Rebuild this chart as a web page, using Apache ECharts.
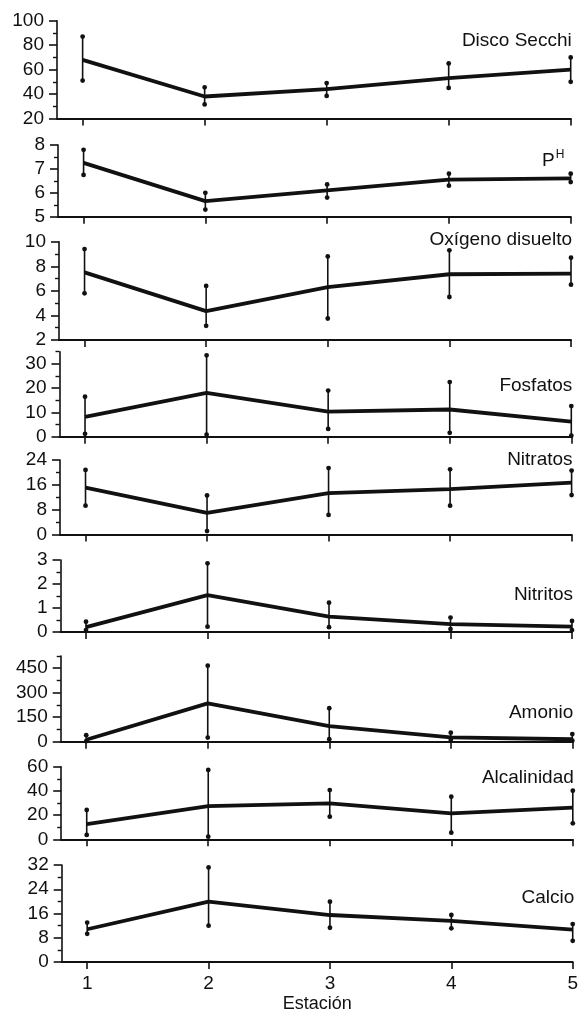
<!DOCTYPE html>
<html><head><meta charset="utf-8">
<script src="https://cdn.jsdelivr.net/npm/echarts@6/dist/echarts.min.js"></script>
<style>html,body{margin:0;padding:0;background:#fff}#c{width:581px;height:1016px}</style>
</head><body><div id="c"></div>
<script>
// ---- data ----
const stations = [1, 2, 3, 4, 5];
const stationTicks = [1, 2, 3, 4, 5];
const xAxisTitle = 'Estación';
const panelNames = ['Disco Secchi', 'P', 'Oxígeno disuelto', 'Fosfatos', 'Nitratos', 'Nitritos', 'Amonio', 'Alcalinidad', 'Calcio'];
const phSuperscript = 'H';

const secchiMean = [68, 38, 44, 53, 60];
const secchiHigh = [87, 45.5, 49, 65, 70];
const secchiLow  = [51, 31.5, 38.5, 45, 50];

const phMean = [7.25, 5.65, 6.1, 6.55, 6.6];
const phHigh = [7.8, 6.0, 6.35, 6.8, 6.8];
const phLow  = [6.75, 5.3, 5.8, 6.3, 6.45];

const oxMean = [7.5, 4.35, 6.3, 7.35, 7.4];
const oxHigh = [9.4, 6.4, 8.8, 9.3, 8.7];
const oxLow  = [5.8, 3.15, 3.75, 5.5, 6.5];

const fosMean = [8.2, 18, 10.3, 11.2, 6.2];
const fosHigh = [16.5, 33.5, 19, 22.5, 12.6];
const fosLow  = [1.2, 0.8, 3.2, 1.6, 0.4];

const nitraMean = [15.1, 7.0, 13.3, 14.6, 16.7];
const nitraHigh = [20.8, 12.6, 21.4, 21.0, 20.6];
const nitraLow  = [9.3, 1.1, 6.3, 9.3, 12.7];

const nitriMean = [0.2, 1.54, 0.64, 0.33, 0.22];
const nitriHigh = [0.43, 2.86, 1.22, 0.6, 0.46];
const nitriLow  = [0.08, 0.22, 0.2, 0.12, 0.08];

const amoMean = [12, 235, 96, 27, 15];
const amoHigh = [40, 466, 205, 55, 47];
const amoLow  = [3, 25, 15, 10, 6];

const alcMean = [12.6, 27.5, 29.7, 21.5, 26.1];
const alcHigh = [24.2, 57.3, 40.7, 35.2, 40.2];
const alcLow  = [3.6, 2.2, 18.7, 5.5, 13.2];

const calMean = [10.8, 19.9, 15.5, 13.6, 10.7];
const calHigh = [13, 31.2, 19.9, 15.5, 12.5];
const calLow  = [9.3, 12, 11.3, 11.1, 7.0];

// axis ranges and tick labels
const yMins = [20, 5, 2, 0, 0, 0, 0, 0, 0];
const yMaxs = [100, 8, 10, 35, 24, 3, 525, 60, 32];
const majorTicks = [
  [20, 40, 60, 80, 100],
  [5, 6, 7, 8],
  [2, 4, 6, 8, 10],
  [0, 10, 20, 30],
  [0, 8, 16, 24],
  [0, 1, 2, 3],
  [0, 150, 300, 450],
  [0, 20, 40, 60],
  [0, 8, 16, 24, 32]
];
const minorTicks = [
  [30, 50, 70, 90],
  [5.5, 6.5, 7.5],
  [3, 5, 7, 9],
  [5, 15, 25, 35],
  [4, 12, 20],
  [0.5, 1.5, 2.5],
  [75, 225, 375, 525],
  [10, 30, 50],
  [4, 12, 20, 28]
];

const means = [secchiMean, phMean, oxMean, fosMean, nitraMean, nitriMean, amoMean, alcMean, calMean];
const highs = [secchiHigh, phHigh, oxHigh, fosHigh, nitraHigh, nitriHigh, amoHigh, alcHigh, calHigh];
const lows  = [secchiLow, phLow, oxLow, fosLow, nitraLow, nitriLow, amoLow, alcLow, calLow];

// ---- layout (pixels) ----
const layout = [
  {top: 20.7, bottom: 118.5, left: 57,   right: 10.3, titleY: 41},
  {top: 145,  bottom: 216.7, left: 58,   right: 10.3, titleY: 161},
  {top: 241.7,bottom: 340,   left: 59,   right: 10,   titleY: 240},
  {top: 351.7,bottom: 436.7, left: 59.5, right: 9.7,  titleY: 386},
  {top: 460,  bottom: 534.5, left: 60,   right: 9.4,  titleY: 460},
  {top: 560,  bottom: 632,   left: 60.5, right: 9,    titleY: 595},
  {top: 656,  bottom: 741.7, left: 60.7, right: 8.7,  titleY: 713},
  {top: 766.7,bottom: 839.3, left: 61.2, right: 8.2,  titleY: 778},
  {top: 865,  bottom: 962,   left: 61.7, right: 7.7,  titleY: 898}
];
const W = 581, H = 1016;
const INK = '#111';
const FONT = 'Liberation Sans, Arial, sans-serif';

const grids = [], xAxes = [], yAxes = [], series = [], graphics = [];
layout.forEach((L, i) => {
  const last = i === layout.length - 1;
  grids.push({left: L.left, right: L.right, top: L.top, height: L.bottom - L.top});
  xAxes.push({
    type: 'value', gridIndex: i, min: 0.79, max: 5,
    axisLine: {show: true, onZero: false, lineStyle: {color: INK, width: 2}},
    axisTick: {show: true, inside: false, length: 7, customValues: stationTicks, lineStyle: {color: INK, width: 1.6}},
    axisLabel: {show: last, customValues: stationTicks, color: INK, fontSize: 19, fontFamily: FONT, margin: 12},
    splitLine: {show: false},
    name: last ? xAxisTitle : '', nameLocation: 'middle', nameGap: 33,
    nameTextStyle: {color: INK, fontSize: 18, fontFamily: FONT}
  });
  // major axis
  yAxes.push({
    type: 'value', gridIndex: i, min: yMins[i], max: yMaxs[i], position: 'left',
    axisLine: {show: true, onZero: false, lineStyle: {color: INK, width: 1.6}},
    axisTick: {show: true, inside: false, length: 8, customValues: majorTicks[i], lineStyle: {color: INK, width: 1.6}},
    axisLabel: {show: true, customValues: majorTicks[i], color: INK, fontSize: 19, fontFamily: FONT, margin: 13},
    splitLine: {show: false}
  });
  // minor axis
  yAxes.push({
    type: 'value', gridIndex: i, min: yMins[i], max: yMaxs[i], position: 'left',
    axisLine: {show: false},
    axisTick: {show: true, inside: false, length: 4, customValues: minorTicks[i], lineStyle: {color: INK, width: 1.4}},
    axisLabel: {show: false},
    splitLine: {show: false}
  });
  const yIdx = i * 2;
  series.push({
    type: 'line', xAxisIndex: i, yAxisIndex: yIdx,
    data: stations.map((s, k) => [s, means[i][k]]),
    symbol: 'none', silent: true, animation: false,
    lineStyle: {color: INK, width: 3.8}, z: 3
  });
  series.push({
    type: 'custom', xAxisIndex: i, yAxisIndex: yIdx, animation: false, silent: true,
    data: stations.map((s, k) => [s, lows[i][k], highs[i][k]]),
    encode: {x: 0, y: [1, 2]},
    renderItem: function (params, api) {
      const x = api.value(0);
      const p1 = api.coord([x, api.value(1)]);
      const p2 = api.coord([x, api.value(2)]);
      return {type: 'group', children: [
        {type: 'line', shape: {x1: p1[0], y1: p1[1], x2: p2[0], y2: p2[1]}, style: {stroke: INK, lineWidth: 1.6}},
        {type: 'circle', shape: {cx: p1[0], cy: p1[1], r: 2.4}, style: {fill: INK}},
        {type: 'circle', shape: {cx: p2[0], cy: p2[1], r: 2.4}, style: {fill: INK}}
      ]};
    },
    z: 2
  });
  const rx = W - L.right + 1;
  if (i === 1) {
    graphics.push({type: 'text', x: rx - 17, y: L.titleY, style: {text: panelNames[i], align: 'right', verticalAlign: 'middle', fontSize: 19, fontFamily: FONT, fill: INK}});
    graphics.push({type: 'text', x: rx - 16, y: L.titleY - 6, style: {text: phSuperscript, align: 'left', verticalAlign: 'middle', fontSize: 12, fontFamily: FONT, fill: INK}});
  } else {
    graphics.push({type: 'text', x: rx, y: L.titleY, style: {text: panelNames[i], align: 'right', verticalAlign: 'middle', fontSize: 19, fontFamily: FONT, fill: INK}});
  }
});

const chart = echarts.init(document.getElementById('c'), null, {renderer: 'canvas', width: W, height: H});
chart.setOption({
  backgroundColor: '#fff',
  animation: false,
  grid: grids, xAxis: xAxes, yAxis: yAxes, series: series, graphic: graphics
});
</script>
</body></html>
